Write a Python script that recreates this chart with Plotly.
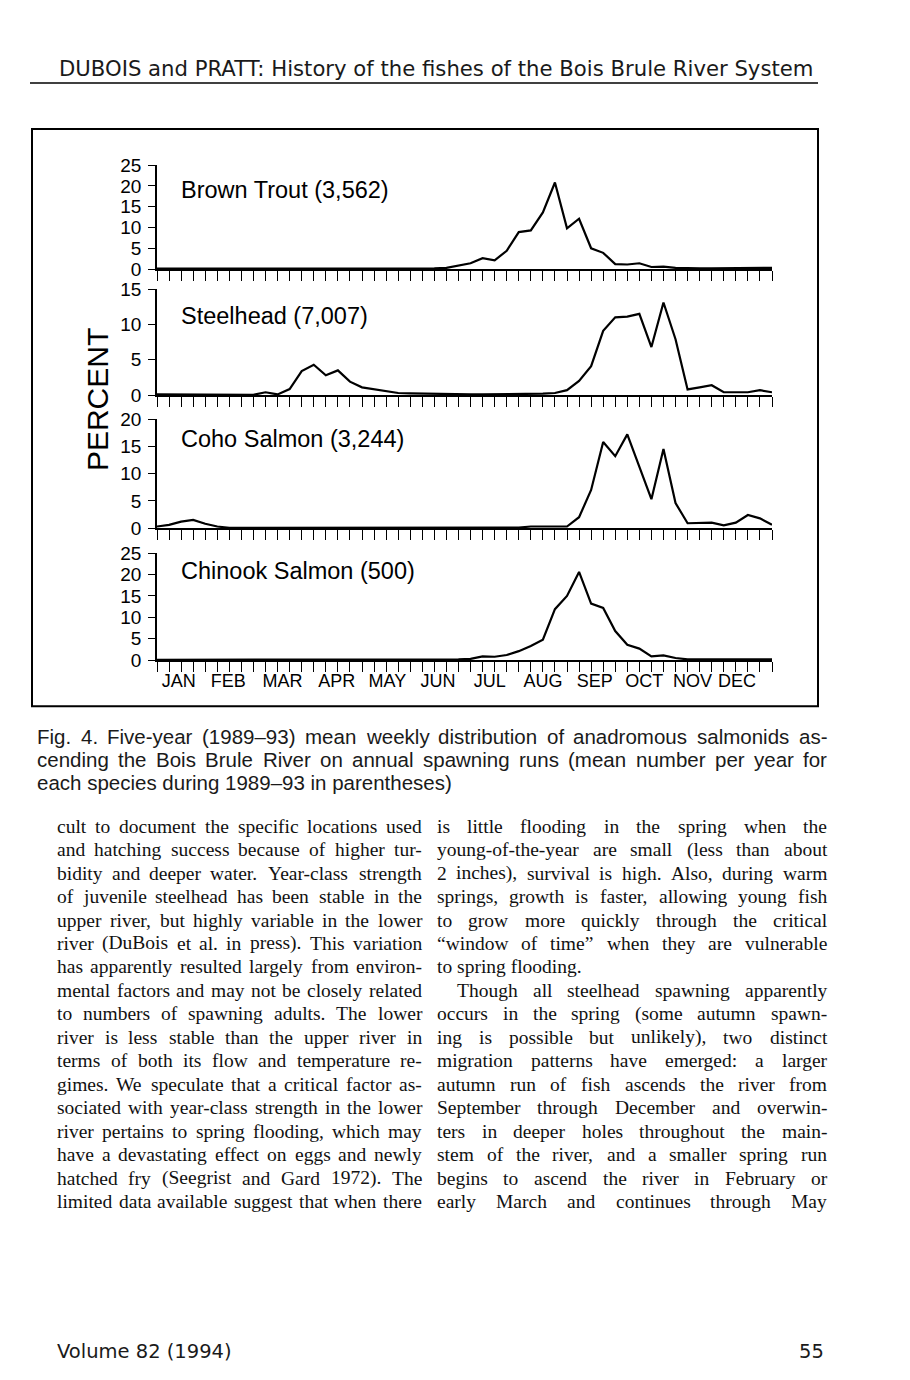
import plotly.graph_objects as go

# ---------------- data ----------------
weeks = list(range(52))
months = ["JAN", "FEB", "MAR", "APR", "MAY", "JUN", "JUL", "AUG", "SEP", "OCT", "NOV", "DEC"]
month_pos = [1.8, 5.9, 10.4, 14.9, 19.1, 23.3, 27.6, 32.0, 36.3, 40.4, 44.4, 48.1]

species = ["Brown Trout (3,562)", "Steelhead (7,007)", "Coho Salmon (3,244)", "Chinook Salmon (500)"]
y_max = [25, 15, 20, 25]

brown_trout = [0.1, 0.1, 0.1, 0.1, 0.1, 0.1, 0.1, 0.1, 0.1, 0.1,
               0.1, 0.1, 0.1, 0.1, 0.1, 0.1, 0.1, 0.1, 0.1, 0.1,
               0.1, 0.1, 0.1, 0.2, 0.3, 0.8, 1.4, 2.6, 2.1, 4.4,
               8.9, 9.3, 13.6, 20.8, 9.8, 12.1, 5.0, 3.9, 1.2, 1.1,
               1.4, 0.5, 0.6, 0.3, 0.2, 0.2, 0.2, 0.2, 0.3, 0.3,
               0.3, 0.3]
steelhead = [0.1, 0.1, 0.1, 0.1, 0.05, 0.0, 0.0, 0.05, 0.05,
             0.4, 0.1, 0.85, 3.4, 4.3, 2.8, 3.5, 1.9, 1.1, 0.85, 0.5, 0.3, 0.25, 0.2,
             0.15, 0.15, 0.1, 0.1, 0.1, 0.1, 0.1, 0.15, 0.15, 0.2,
             0.3, 0.7, 2.0, 4.1, 9.1, 11.0, 11.1, 11.5, 6.8, 13.1, 7.9, 0.8, 1.1, 1.4,
             0.4, 0.4, 0.4, 0.7, 0.4]
coho_salmon = [0.3, 0.6, 1.2, 1.5, 0.8, 0.3, 0.05,
               0.05, 0.05, 0.05, 0.05, 0.05, 0.05, 0.05, 0.05, 0.05, 0.05, 0.05, 0.05,
               0.05, 0.05, 0.05, 0.05, 0.05, 0.05, 0.05, 0.05, 0.05, 0.05, 0.05,
               0.1, 0.3, 0.3, 0.2, 0.3, 2.0, 7.0, 15.8, 13.2, 17.2, 11.3, 5.3, 14.5, 4.6,
               0.9, 0.9, 1.0, 0.5, 1.0, 2.4, 1.8, 0.6]
chinook_salmon = [0.1, 0.1, 0.1, 0.1, 0.1, 0.2, 0.1,
                  0.1, 0.1, 0.1, 0.1, 0.1, 0.1, 0.1, 0.1, 0.1, 0.1, 0.1, 0.1, 0.1, 0.1, 0.1,
                  0.2, 0.2, 0.2, 0.2,
                  0.3, 0.9, 0.8, 1.2, 2.1, 3.3, 4.8, 11.9, 15.0, 20.6, 13.2, 12.2, 6.8, 3.6,
                  2.7, 0.9, 1.1, 0.5,
                  0.2, 0.2, 0.2, 0.2, 0.2, 0.2, 0.2, 0.2]
series = [brown_trout, steelhead, coho_salmon, chinook_salmon]

header = "DUBOIS and PRATT: History of the fishes of the Bois Brule River System"
caption = [
    "Fig. 4. Five-year (1989–93) mean weekly distribution of anadromous salmonids as-",
    "cending the Bois Brule River on annual spawning runs (mean number per year for",
    "each species during 1989–93 in parentheses)",
]
left_col = [
    "cult to document the specific locations used",
    "and hatching success because of higher tur-",
    "bidity and deeper water. Year-class strength",
    "of juvenile steelhead has been stable in the",
    "upper river, but highly variable in the lower",
    "river (DuBois et al. in press). This variation",
    "has apparently resulted largely from environ-",
    "mental factors and may not be closely related",
    "to numbers of spawning adults. The lower",
    "river is less stable than the upper river in",
    "terms of both its flow and temperature re-",
    "gimes. We speculate that a critical factor as-",
    "sociated with year-class strength in the lower",
    "river pertains to spring flooding, which may",
    "have a devastating effect on eggs and newly",
    "hatched fry (Seegrist and Gard 1972). The",
    "limited data available suggest that when there",
]
right_col = [
    "is little flooding in the spring when the",
    "young-of-the-year are small (less than about",
    "2 inches), survival is high. Also, during warm",
    "springs, growth is faster, allowing young fish",
    "to grow more quickly through the critical",
    "“window of time” when they are vulnerable",
    "to spring flooding.",
    "Though all steelhead spawning apparently",
    "occurs in the spring (some autumn spawn-",
    "ing is possible but unlikely), two distinct",
    "migration patterns have emerged: a larger",
    "autumn run of fish ascends the river from",
    "September through December and overwin-",
    "ters in deeper holes throughout the main-",
    "stem of the river, and a smaller spring run",
    "begins to ascend the river in February or",
    "early March and continues through May",
]
footer_left = "Volume 82 (1994)"
footer_right = "55"

# ---------------- page geometry (browser body keeps its 8px margin) ----------------
PAGE_W, PAGE_H, BODY_M = 910, 1380, 8
W, H = PAGE_W - 2 * BODY_M, PAGE_H - 2 * BODY_M
# empirical vertical calibration of the rendered page
Y_OFF, Y_SCALE = 9.1, 0.9844


def fx(px):
    return (px - BODY_M) / W


def fy(py):
    p = (py - Y_OFF) / Y_SCALE
    return 1 - (p - BODY_M) / H


SANS = "Liberation Sans, Arial, Helvetica, sans-serif"
WIDE = "DejaVu Sans, Verdana, sans-serif"
SERIF = "Liberation Serif, Times New Roman, serif"

# advance widths (1/1000 em) used only to justify text lines
_times = {" ": 250, "(": 333, ")": 333, ",": 250, "-": 333, ".": 250, ":": 278, ";": 278,
          "“": 444, "”": 444, "–": 500, "'": 180,
          "A": 722, "B": 667, "C": 667, "D": 722, "E": 611, "F": 556, "G": 722, "H": 722, "I": 333,
          "J": 389, "K": 722, "L": 611, "M": 889, "N": 722, "O": 722, "P": 556, "Q": 722, "R": 667,
          "S": 556, "T": 611, "U": 722, "V": 722, "W": 944, "X": 722, "Y": 722, "Z": 611,
          "a": 444, "b": 500, "c": 444, "d": 500, "e": 444, "f": 333, "g": 500, "h": 500, "i": 278,
          "j": 278, "k": 500, "l": 278, "m": 778, "n": 500, "o": 500, "p": 500, "q": 500, "r": 333,
          "s": 389, "t": 278, "u": 500, "v": 500, "w": 722, "x": 500, "y": 500, "z": 444}
_arial = {" ": 278, "(": 333, ")": 333, ",": 278, "-": 333, ".": 278, ":": 278, "–": 556,
          "A": 667, "B": 667, "C": 722, "D": 722, "E": 667, "F": 611, "G": 778, "H": 722, "I": 278,
          "J": 500, "K": 667, "L": 556, "M": 833, "N": 722, "O": 778, "P": 667, "Q": 778, "R": 722,
          "S": 667, "T": 611, "U": 722, "V": 667, "W": 944, "X": 667, "Y": 667, "Z": 611,
          "a": 556, "b": 556, "c": 500, "d": 556, "e": 556, "f": 278, "g": 556, "h": 556, "i": 222,
          "j": 222, "k": 500, "l": 222, "m": 833, "n": 556, "o": 556, "p": 556, "q": 556, "r": 333,
          "s": 500, "t": 278, "u": 556, "v": 500, "w": 722, "x": 500, "y": 500, "z": 500}


def text_width(s, table, size, digit=500):
    tot = 0
    for c in s:
        if c.isdigit():
            tot += digit
        else:
            tot += table.get(c, 500)
    return tot / 1000 * size


annotations = []


def add_line(text, x_left, x_right, y, size, family, table, digit, justify, color):
    words = text.split(" ")
    if not justify or len(words) < 2:
        annotations.append(dict(
            text=text, xref="paper", yref="paper", x=fx(x_left), y=fy(y),
            xanchor="left", yanchor="middle", showarrow=False,
            font=dict(size=size, family=family, color=color)))
        return
    ws = [text_width(w, table, size, digit) for w in words]
    gap = (x_right - x_left - sum(ws)) / (len(words) - 1)
    x = x_left
    for w, wd in zip(words, ws):
        annotations.append(dict(
            text=w, xref="paper", yref="paper", x=fx(x), y=fy(y),
            xanchor="left", yanchor="middle", showarrow=False,
            font=dict(size=size, family=family, color=color)))
        x += wd + gap


panel_px = [(164, 268), (288, 394), (418, 527), (552, 659)]
label_y = [189, 315, 438, 570]

fig = go.Figure()
layout = dict(
    width=W, height=H,
    margin=dict(l=0, r=0, t=0, b=0),
    paper_bgcolor="white", plot_bgcolor="white",
    showlegend=False,
    font=dict(family=SANS, color="black"),
)

for i, (vals, name, ym) in enumerate(zip(series, species, y_max)):
    n = "" if i == 0 else str(i + 1)
    fig.add_trace(go.Scatter(
        x=weeks, y=vals, mode="lines",
        line=dict(color="black", width=2.2),
        xaxis="x" + n, yaxis="y" + n, hoverinfo="skip",
    ))
    top, bot = panel_px[i]
    xa = dict(
        domain=[fx(157), fx(772)], range=[0, 51], anchor="y" + n,
        showline=True, linecolor="black", linewidth=1.5,
        showgrid=False, zeroline=False, fixedrange=True,
    )
    if i < 3:
        xa.update(tickmode="array", tickvals=weeks, ticks="outside", ticklen=10,
                  tickwidth=1, tickcolor="black", showticklabels=False)
    else:
        xa.update(tickmode="array", tickvals=month_pos, ticktext=months, ticks="",
                  tickfont=dict(size=18, family=SANS, color="black"),
                  ticklabelstandoff=3,
                  minor=dict(tickmode="array", tickvals=weeks, ticks="outside",
                             ticklen=10, tickwidth=1, tickcolor="black", showgrid=False))
    ya = dict(
        domain=[fy(bot), fy(top)], range=[0, ym], anchor="x" + n,
        tickmode="array", tickvals=list(range(0, ym + 1, 5)),
        ticks="outside", ticklen=7, tickwidth=1.2, tickcolor="black",
        showline=True, linecolor="black", linewidth=1.5,
        showgrid=False, zeroline=False, fixedrange=True,
        tickfont=dict(size=19, family=SANS, color="black"),
        ticklabelstandoff=3,
    )
    layout["xaxis" + n] = xa
    layout["yaxis" + n] = ya
    annotations.append(dict(
        text=name, xref="paper", yref="paper", x=fx(179), y=fy(label_y[i]),
        xanchor="left", yanchor="middle", showarrow=False,
        font=dict(size=23.5, family=SANS, color="black"),
    ))

annotations.append(dict(
    text="PERCENT", xref="paper", yref="paper", x=fx(97), y=fy(399),
    xanchor="center", yanchor="middle", showarrow=False, textangle=-90,
    font=dict(size=30, family=SANS, color="black"),
))

annotations.append(dict(
    text=header, xref="paper", yref="paper", x=fx(57), y=fy(67),
    xanchor="left", yanchor="middle", showarrow=False,
    font=dict(size=21.2, family=WIDE, color="#1a1a1a"),
))

for j, line in enumerate(caption):
    add_line(line, 35, 825, 735 + 23 * j, 20.5, SANS, _arial, 556, j < 2, "#1a1a1a")

for j, line in enumerate(left_col):
    add_line(line, 55, 420, 825 + 23.45 * j, 19.5, SERIF, _times, 500, True, "#111111")
for j, line in enumerate(right_col):
    xl = 455 if j == 7 else 435
    add_line(line, xl, 825, 825 + 23.45 * j, 19.5, SERIF, _times, 500, j != 6, "#111111")

annotations.append(dict(
    text=footer_left, xref="paper", yref="paper", x=fx(55), y=fy(1350),
    xanchor="left", yanchor="middle", showarrow=False,
    font=dict(size=19.5, family=WIDE, color="#1a1a1a"),
))
annotations.append(dict(
    text=footer_right, xref="paper", yref="paper", x=fx(826), y=fy(1350),
    xanchor="right", yanchor="middle", showarrow=False,
    font=dict(size=19.5, family=WIDE, color="#1a1a1a"),
))

layout["annotations"] = annotations
layout["shapes"] = [
    dict(type="rect", xref="paper", yref="paper", x0=fx(32), x1=fx(818), y0=fy(705), y1=fy(128),
         line=dict(color="black", width=2), fillcolor="rgba(0,0,0,0)", layer="below"),
    dict(type="line", xref="paper", yref="paper", x0=fx(30), x1=fx(818), y0=fy(82), y1=fy(82),
         line=dict(color="black", width=1.5)),
]

fig.update_layout(**layout)
fig.write_html("out.html", config={"displayModeBar": False})
